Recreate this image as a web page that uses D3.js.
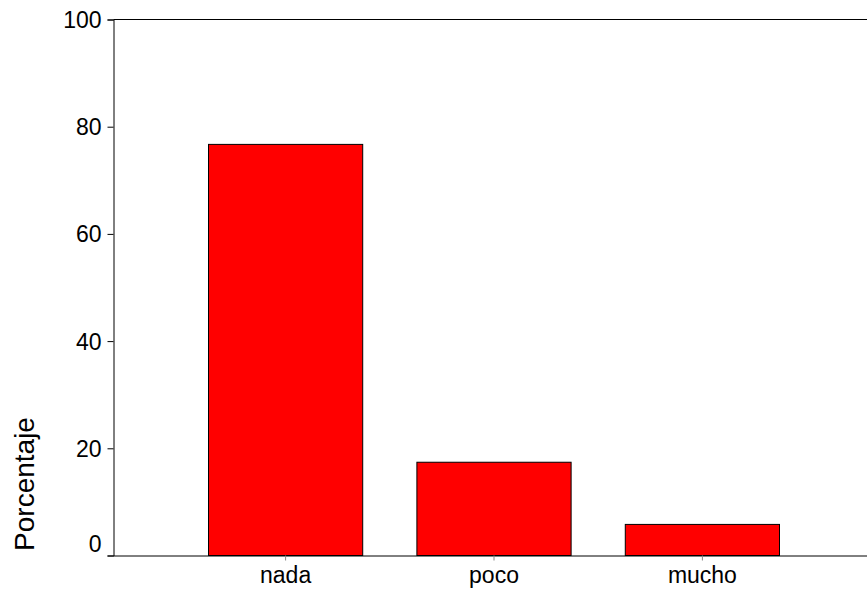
<!DOCTYPE html>
<html>
<head>
<meta charset="utf-8">
<script src="https://cdn.jsdelivr.net/npm/d3@7"></script>
<style>
  html, body { margin: 0; padding: 0; background: #fff; }
  svg { display: block; }
  text { font-family: "Liberation Sans", Arial, sans-serif; fill: #000; }
</style>
</head>
<body>
<svg id="chart" width="867" height="596"></svg>
<script>
const categories = ["nada", "poco", "mucho"];
const values = [76.7, 17.4, 5.8];
const yTicks = [0, 20, 40, 60, 80, 100];
const yLabel = "Porcentaje";

const svg = d3.select("#chart");
const left = 113.5, plotRight = 867;

const y = d3.scaleLinear().domain([0, 100]).range([555.5, 19.5]);
const x = d3.scaleBand().domain(categories).range([208.5, 779.5]).paddingInner(0.26).paddingOuter(0);

// bars
svg.append("g").selectAll("rect").data(values).join("rect")
  .attr("x", (d, i) => x(categories[i]))
  .attr("y", d => y(d))
  .attr("width", x.bandwidth())
  .attr("height", d => y(0) - y(d))
  .attr("fill", "#ff0000")
  .attr("stroke", "#000")
  .attr("stroke-width", 1);

// top frame line
svg.append("line")
  .attr("x1", left).attr("x2", plotRight)
  .attr("y1", y(100)).attr("y2", y(100))
  .attr("stroke", "#000");

// y axis
const yAxis = svg.append("g")
  .attr("transform", `translate(${left},0)`)
  .call(d3.axisLeft(y).tickValues(yTicks).tickSize(6).tickPadding(6).tickFormat(d3.format("d")));
yAxis.select(".domain").attr("stroke", "#000");
yAxis.selectAll(".tick line").attr("stroke", "#000");
yAxis.selectAll(".tick text")
  .style("font-size", "23px")
  .style("font-family", "Liberation Sans, Arial, sans-serif")
  .attr("fill", "#000")
  .attr("dy", d => d === 0 ? "-0.17em" : "0.35em");

// x axis
const xAxis = svg.append("g")
  .attr("transform", `translate(0,${y(0)})`)
  .call(d3.axisBottom(x).tickSize(5).tickPadding(6));
xAxis.select(".domain").attr("d", `M${left},0.5H${plotRight}`).attr("stroke", "#000");
xAxis.selectAll(".tick line").attr("stroke", "#888");
xAxis.selectAll(".tick text")
  .style("font-size", "23px")
  .style("font-family", "Liberation Sans, Arial, sans-serif")
  .attr("fill", "#000");

// y label
svg.append("text")
  .attr("transform", "translate(33.5,484) rotate(-90)")
  .attr("text-anchor", "middle")
  .style("font-size", "28px")
  .text(yLabel);
</script>
</body>
</html>
